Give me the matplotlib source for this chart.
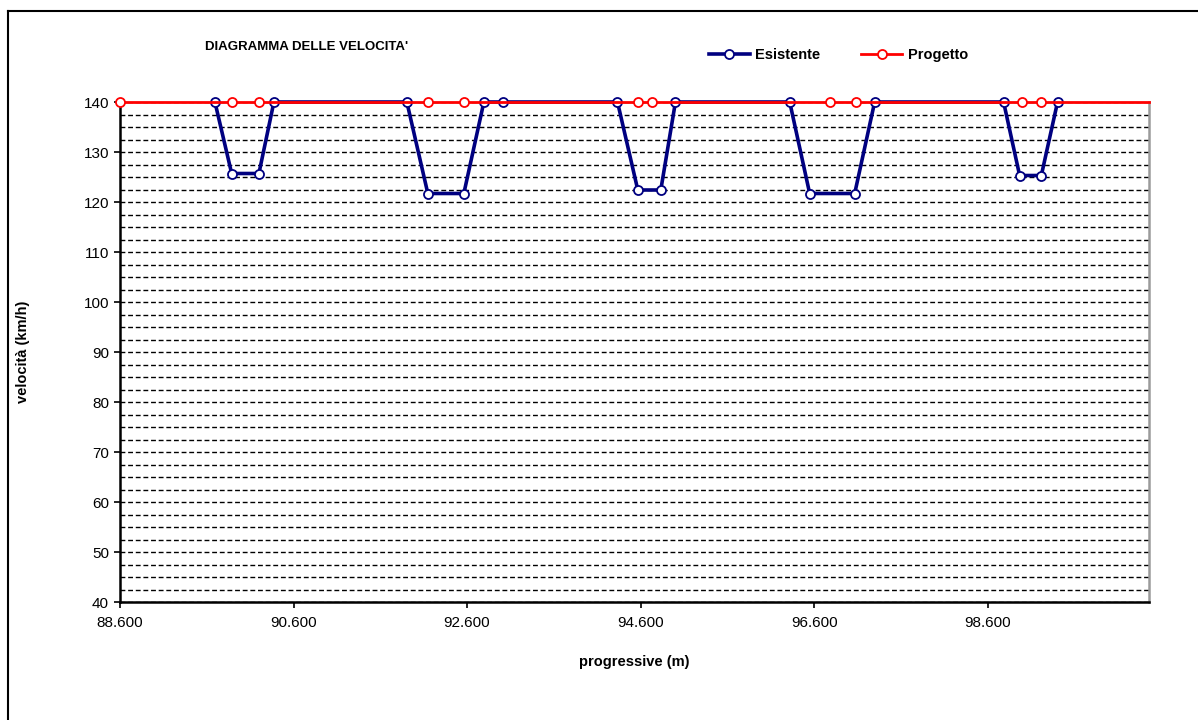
import matplotlib
matplotlib.use("Agg")
import matplotlib.pyplot as plt
from matplotlib.lines import Line2D
from matplotlib.ticker import FuncFormatter, MultipleLocator

plt.rcParams["font.family"] = ["Liberation Sans", "DejaVu Sans"]

# Esistente (existing speed profile), progressive in m, speed in km/h
esistente_x = [89694, 89887, 90201, 90374, 91906, 92148, 92563, 92794, 93009,
               94334, 94568, 94833, 95002, 96319, 96549, 97068, 97298,
               98784, 98969, 99219, 99406]
esistente_v = [140, 125.7, 125.7, 140, 140, 121.7, 121.7, 140, 140,
               140, 122.4, 122.4, 140, 140, 121.7, 121.7, 140,
               140, 125.3, 125.3, 140]

# Progetto (design speed), constant 140 km/h
progetto_x = [88600, 89887, 90201, 92148, 92563, 94568, 94726, 96780, 97087,
              98999, 99211, 100460]
progetto_v = [140] * len(progetto_x)

x_ticks = [88600, 90600, 92600, 94600, 96600, 98600]

X_MIN, X_MAX = 88600, 100460
NAVY = "#000080"
RED = "#FF0000"

fig = plt.figure(figsize=(11.98, 7.2), dpi=100)
ax = fig.add_axes([120 / 1198, 1 - 602 / 720, (1149 - 120) / 1198, 500 / 720])

ax.plot(esistente_x, esistente_v, "-o", color=NAVY, lw=2.6, ms=6.5,
        mfc="white", mec=NAVY, mew=1.3, clip_on=False, zorder=3,
        label="Esistente")
ax.plot(progetto_x, progetto_v, "-o", color=RED, lw=2, ms=6.5,
        mfc="white", mec=RED, mew=1.3, clip_on=False, zorder=4,
        markevery=list(range(len(progetto_x) - 1)), label="Progetto")

ax.set_xlim(X_MIN, X_MAX)
ax.set_ylim(40, 140)
ax.set_xticks(x_ticks)
ax.xaxis.set_major_formatter(
    FuncFormatter(lambda v, _: f"{v:,.0f}".replace(",", ".")))
ax.yaxis.set_major_locator(MultipleLocator(10))
ax.yaxis.set_minor_locator(MultipleLocator(2.5))
ax.tick_params(axis="y", which="minor", length=0)
ax.tick_params(axis="both", which="major", direction="out", length=4,
               width=1.2, labelsize=11, colors="black")
ax.tick_params(axis="x", pad=6)
ax.tick_params(axis="y", pad=4)

ax.grid(True, axis="y", which="both", color="black", lw=1.0,
        linestyle=(0, (3.5, 2)))
ax.set_axisbelow(True)

ax.spines["top"].set_visible(False)
ax.spines["left"].set_linewidth(1.8)
ax.spines["bottom"].set_linewidth(1.8)
ax.spines["right"].set_color("#9a9a9a")
ax.spines["right"].set_linewidth(1.8)

ax.set_ylabel("velocità (km/h)", fontsize=10.5, fontweight="bold")
ax.yaxis.set_label_coords(-0.087, 0.5)
ax.set_xlabel("progressive (m)", fontsize=10.5, fontweight="bold", labelpad=18)

fig.text(205 / 1198, 1 - 47 / 720, "DIAGRAMMA DELLE VELOCITA'",
         fontsize=9.5, fontweight="bold", va="center", ha="left")

fig.legend(loc="center", bbox_to_anchor=(0.70, 1 - 55 / 720), ncol=2,
           frameon=False, handlelength=2.8, columnspacing=2.8,
           handletextpad=0.4, prop={"weight": "bold", "size": 10.5})

# chart frame (only left and top edges visible in the image)
fig.add_artist(Line2D([8 / 1198, 8 / 1198], [0, 1 - 11 / 720],
                      transform=fig.transFigure, color="black", lw=1.5))
fig.add_artist(Line2D([8 / 1198, 1], [1 - 11 / 720, 1 - 11 / 720],
                      transform=fig.transFigure, color="black", lw=1.5))

fig.savefig("out.png", dpi=100)
